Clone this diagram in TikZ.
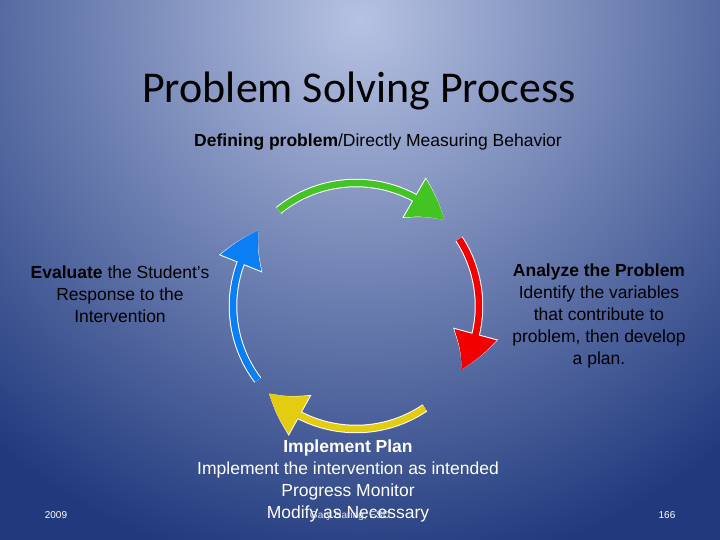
\documentclass[tikz,border=0pt]{standalone}
\usepackage{fontspec}
\setmainfont{Liberation Sans}
\newfontfamily\titlefont{Carlito}
\usetikzlibrary{arrows.meta,bending}
\definecolor{bgdark}{HTML}{213A7E}
\definecolor{bglight}{HTML}{B6C2E2}
\definecolor{cgreen}{HTML}{44C424}
\definecolor{cred}{HTML}{F20000}
\definecolor{cyellow}{HTML}{E4CC10}
\definecolor{cblue}{HTML}{0A7FF5}
\tikzset{
  lbl/.style={text=black,font=\fontsize{17.5}{21.8}\selectfont,align=center,inner sep=0pt},
  foot/.style={text=white,font=\fontsize{10}{11}\selectfont,inner sep=0pt},
  arc/.style={line width=6.5pt,-{Triangle[length=38pt,width=42pt,bend]}},
  rim/.style={line width=8.5pt,white,-{Triangle[length=39pt,width=44pt,bend]}}
}
\begin{document}
\begin{tikzpicture}[x=1pt,y=-1pt]
\useasboundingbox (0,0) rectangle (720,540);
\begin{scope}
\clip (0,0) rectangle (720,540);
\fill[bgdark] (0,0) rectangle (720,540);
\shade[inner color=bglight,outer color=bgdark] (360,20) circle[radius=560];
\end{scope}
\node[text=black,font=\titlefont\fontsize{44}{48}\selectfont] (title) at (359,91) {Problem Solving Process};
\node[lbl] (def) at (378,142) {\textbf{Defining problem}/Directly Measuring Behavior};
\node[lbl] (eval) at (120,294) {\textbf{Evaluate} the Student’s\\Response to the\\Intervention};
\node[lbl] (ana) at (599,316) {\textbf{Analyze the Problem}\\Identify the variables\\that contribute to\\problem, then develop\\a plan.};
\node[lbl,text=white] (impl) at (348,481) {\textbf{Implement Plan}\\Implement the intervention as intended\\Progress Monitor\\Modify as Necessary};
\node[foot] (yr) at (56,515) {2009};
\node[foot] (pg) at (667,515) {166};
\node[foot,text=white!80!gray] (cr) at (350,516) {Gary Haring, ESD};
\coordinate (c) at (356,306);
\foreach \a/\b/\col in {129/44/cgreen,33/-31/cred,-56/-135/cyellow,-143/-218/cblue}{
  \draw[rim] ([shift={(-\a:123)}]c) arc[start angle=-\a,end angle=-\b,radius=123];
  \draw[arc,\col] ([shift={(-\a:123)}]c) arc[start angle=-\a,end angle=-\b,radius=123];
}
\end{tikzpicture}
\end{document}
